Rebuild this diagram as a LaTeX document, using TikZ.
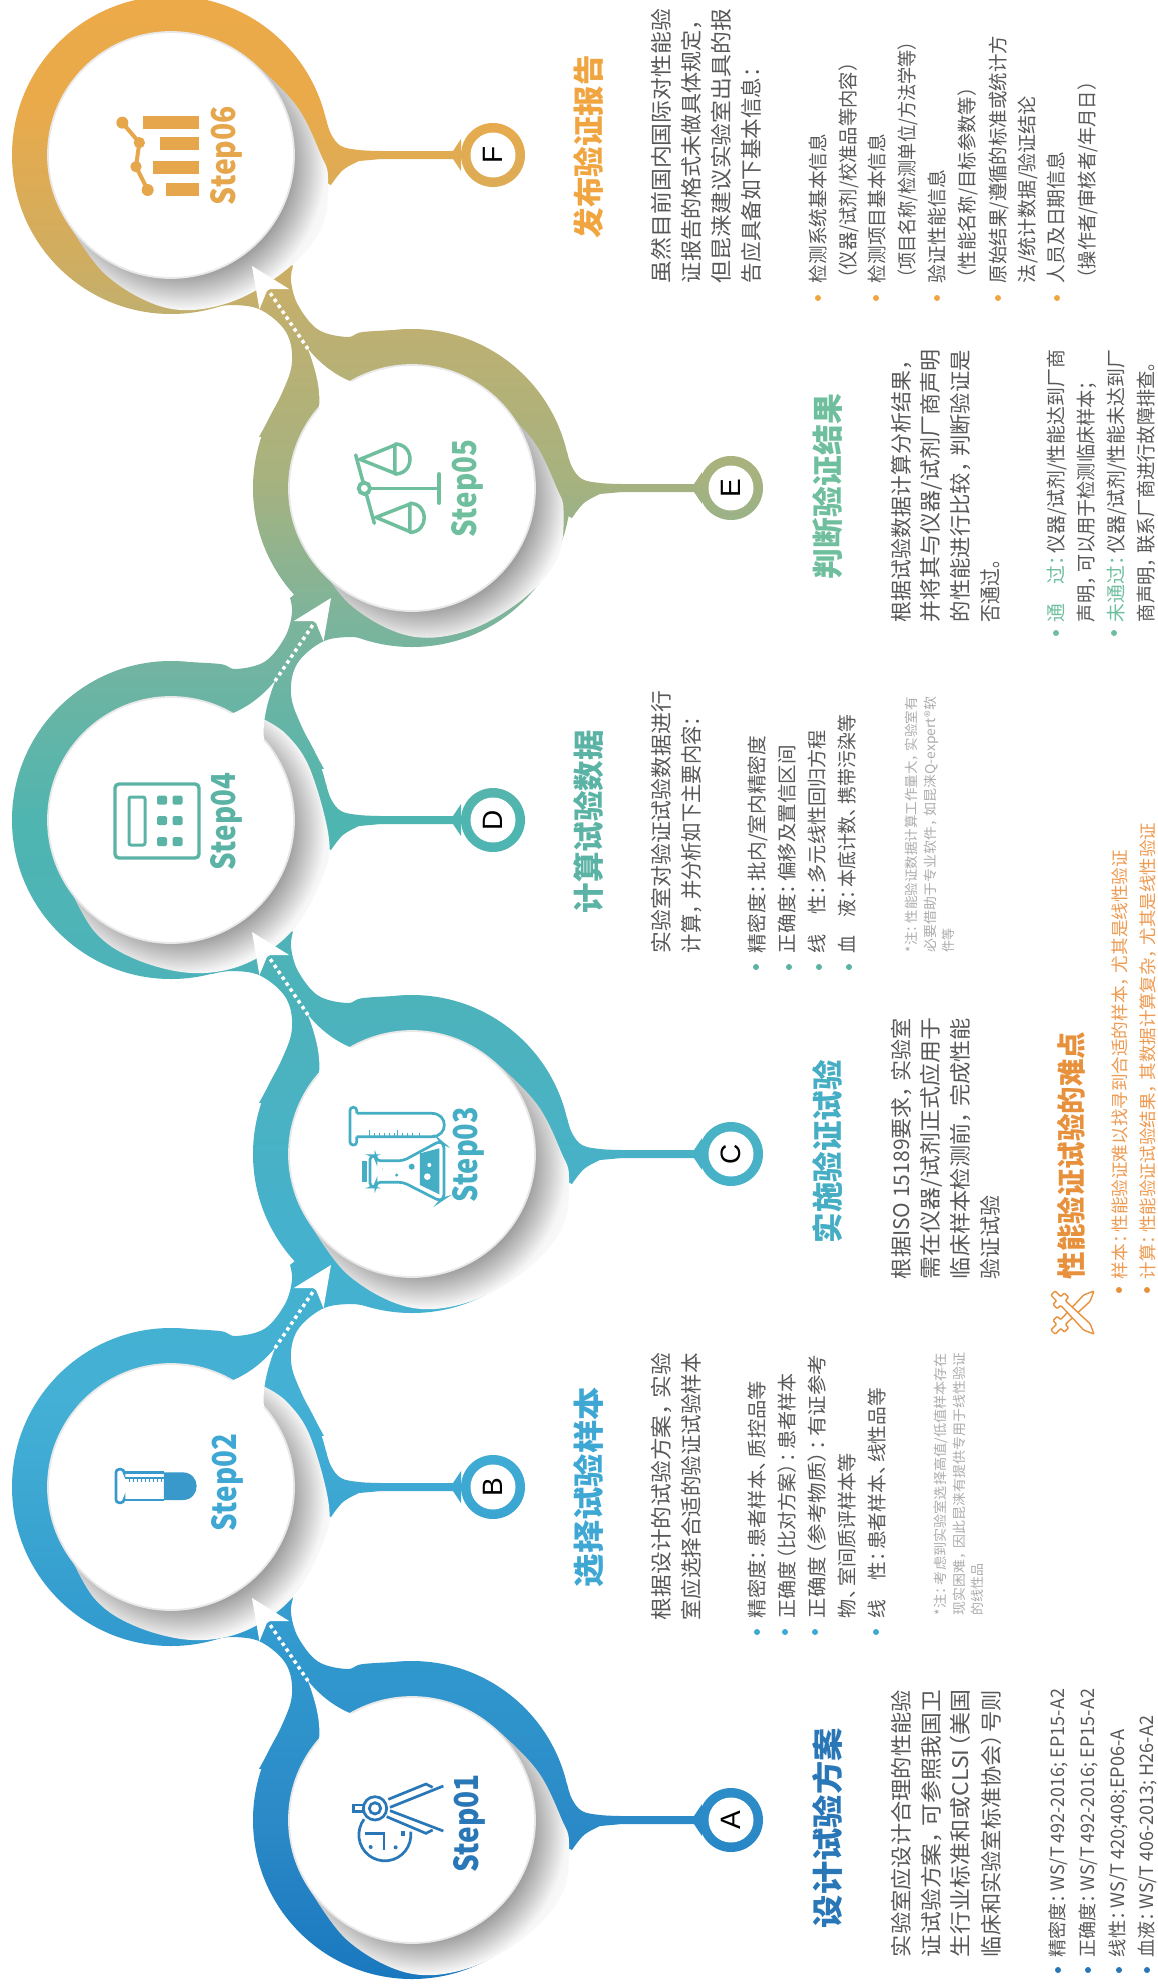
\documentclass[tikz,border=0pt]{standalone}
\usepackage{graphicx}
\usepackage{fontspec}
\setmainfont{Noto Sans CJK SC}
\newfontfamily\markfont{Liberation Sans}
\usetikzlibrary{arrows.meta,calc}
\definecolor{g0}{HTML}{1A78BF}\definecolor{g1}{HTML}{2B8AC7}\definecolor{g2}{HTML}{3199CE}
\definecolor{g3}{HTML}{44B0D5}\definecolor{g4}{HTML}{44B1CE}\definecolor{g5}{HTML}{4CB2BE}
\definecolor{g6}{HTML}{4FB5B0}\definecolor{g7}{HTML}{7CB49C}\definecolor{g8}{HTML}{A6B27F}
\definecolor{g9}{HTML}{BDB072}\definecolor{g10}{HTML}{D1AD5F}\definecolor{g11}{HTML}{EAAA4A}
\definecolor{g12}{HTML}{ECAA48}
\definecolor{bodyc}{HTML}{585858}\definecolor{notec}{HTML}{ACACAC}
\definecolor{ca}{HTML}{2A77B8}\definecolor{cb}{HTML}{3FA7D3}\definecolor{cc}{HTML}{45AEC4}
\definecolor{cd}{HTML}{5AB3A4}\definecolor{ce}{HTML}{6FBF9E}\definecolor{cf}{HTML}{E6A64C}
\definecolor{cg}{HTML}{E8913C}\definecolor{ch}{HTML}{EE9A50}\definecolor{ci}{HTML}{F0A540}
\definecolor{ls0}{HTML}{9A9A9A}\definecolor{ls1}{HTML}{C4C4C4}\definecolor{ls2}{HTML}{F6F6F6}
\pgfdeclareverticalshading{flow}{100bp}{color(0bp)=(g0);color(25.3bp)=(g0);color(29.2bp)=(g1);color(33.5bp)=(g2);color(39.8bp)=(g3);color(43.5bp)=(g4);color(48.6bp)=(g5);color(54.4bp)=(g6);color(59.4bp)=(g7);color(62.9bp)=(g8);color(66.7bp)=(g9);color(68.7bp)=(g10);color(72.5bp)=(g11);color(75bp)=(g12);color(100bp)=(g12)}
\pgfdeclareradialshading{lensg}{\pgfpointorigin}{color(0bp)=(ls0);color(15.7bp)=(ls0);color(18.2bp)=(ls1);color(21bp)=(ls2);color(25bp)=(white);color(50bp)=(white)}
\newcounter{tl}
\newcommand{\tline}[6]{\stepcounter{tl}\node[textline,text=#5,font=\fontsize{#4}{#4}\selectfont] (t\thetl) at (#1,#2) {\resizebox{#3pt}{\height}{#6}};}
\newcommand{\shadeall}{\shade[shading=flow] (0,0) rectangle (1157,1987);}
\newcommand{\bul}[3]{\fill[#1] (#2,#3) circle[radius=3];}
\newcommand{\cma}{，\hspace{-.25em}}
\newcommand{\cln}{：\hspace{-.35em}}
\newcommand{\dun}{、\hspace{-.35em}}
\newcommand{\lpa}{\hspace{-.4em}（}
\newcommand{\rpa}{）\hspace{-.4em}}
\tikzset{
 textline/.style={rotate=90,anchor=base west,inner sep=0pt,outer sep=0pt},
 disc/.style={fill=white,draw=black!9,line width=1.8pt},
 endmark/.style={circle,fill=white,minimum size=45pt,inner sep=0pt,rotate=90,text=black,font=\markfont\fontsize{28}{28}\selectfont},
 flowdash/.style={draw=white,line width=3.5pt,dash pattern=on 3.5pt off 3.6pt,-{Stealth[length=40pt,width=36pt,inset=12pt,line width=0pt,fill=white]}},
 ic/.style={line width=2.7pt},
}
\begin{document}
\begin{tikzpicture}[x=1pt,y=-1pt]
\useasboundingbox (0,0) rectangle (1157,1987);
\fill[white] (0,0) rectangle (1157,1987);
% rings, stems, end circles
\foreach \cx/\cy/\mx in {412/1820/731,171/1487/493,412/1154/731,171/820/493,412/488/731,171/155/493}{
  \begin{scope}\clip (\cx,\cy) circle[radius=159];\shadeall\end{scope}
  \begin{scope}
    \clip[shift={(\cx,\cy)}] plot[smooth,tension=.6] coordinates{(155,-36)(160,-21)(170,-9)(188,-5)(210,-4)} -- (282,-4) -- (290,-16) -- (290,16) -- (282,4) -- (210,4) -- plot[smooth,tension=.6] coordinates{(188,6)(172,15)(160,30)} -- (100,0) -- cycle;
    \shadeall
  \end{scope}
  \begin{scope}\clip (\mx,\cy) circle[radius=32];\shadeall\end{scope}
}
% necks
\foreach \cx/\cy/\s in {412/1820/1,171/1487/-1,412/1154/1,171/820/-1,412/488/1}{
  \begin{scope}
    \clip[shift={(\cx,\cy)},xscale=\s] plot[smooth,tension=.6] coordinates{(-153,-51)(-130,-95)(-120,-126)(-126,-156)(-151,-178)(-179,-183)(-200,-180)} -- (-181,-273) -- plot[smooth,tension=.6] coordinates{(-119,-222)(-121,-207)(-114,-183)(-94,-158.5)(-65,-151)(-49,-156)(-4,-158.5)} -- (-50,-60) -- cycle;
    \shadeall
  \end{scope}
}
% page-curl shadows
\foreach \cx/\cy/\k in {412/1820/1,412/1154/1,412/488/.965,171/155/1}{
  \begin{scope}
    \clip[shift={(\cx,\cy)},xscale=\k,yscale=\k] plot[smooth,tension=.6] coordinates{(33,-119)(60,-108)(90,-86)(127,-47)(150,0)(157,23)(151,72)(115,115)(57,148)(-4,153)(-65,120)(-106,63)} -- (0,0) -- cycle;
    \shade[shading=lensg] (\cx+11,\cy+11) circle[radius=170];
  \end{scope}
}
\foreach \cx/\cy in {171/1487,171/820}{
  \begin{scope}
    \clip[shift={(\cx,\cy)}] plot[smooth,tension=.6] coordinates{(90,-102)(115,-86)(139,-51)(158,19)(151,58)(121,111)(74,144)(21,153)(-36,139)(-77,111)(-106,58)} -- (0,0) -- cycle;
    \shade[shading=lensg] (\cx+11,\cy+11) circle[radius=170];
  \end{scope}
}
% white discs
\foreach \cx/\cy in {412/1820,171/1487,412/1154,171/820,412/488,171/155}{
  \filldraw[disc] (\cx,\cy) circle[radius=123];
}
% wedges and arrows
\foreach \i/\cx/\cy/\s in {1/412/1820/1,2/171/1487/-1,3/412/1154/1,4/171/820/-1,5/412/488/1}{
  \fill[white,shift={(\cx,\cy)},xscale=\s] (-104,-139) .. controls (-97,-120) and (-91,-100) .. (-93,-80) -- (-40,-60) -- (-60,-106) .. controls (-75,-112) and (-90,-122) .. (-104,-139) -- cycle;
  \coordinate (tail\i) at ($(\cx,\cy)+(\s*-104,-139)$);
  \coordinate (head\i) at ($(\cx,\cy)+(\s*-160,-222)$);
}
\foreach \i in {1,...,5}{\draw[flowdash] (tail\i) -- (head\i);}
% end marks
\node[endmark] (mA) at (731,1820) {A};
\node[endmark] (mB) at (493,1487) {B};
\node[endmark] (mC) at (731,1154) {C};
\node[endmark] (mD) at (493,820) {D};
\node[endmark] (mE) at (731,488) {E};
\node[endmark] (mF) at (493,155) {F};
% step labels
\tline{478}{1872}{98}{33}{ca}{\bfseries Step01}
\tline{236}{1531}{97}{33}{cb}{\bfseries Step02}
\tline{477}{1202}{95}{33}{cc}{\bfseries Step03}
\tline{235}{870}{97}{33}{cd}{\bfseries Step04}
\tline{476}{537}{97}{33}{ce}{\bfseries Step05}
\tline{235}{205}{99}{33}{cf}{\bfseries Step06}
% icon 01
\begin{scope}[shift={(340,1770)},x=.3333pt,y=-.3333pt,ic,draw=ca,fill=ca]
  \draw (212,185) arc[start angle=-7,end angle=217,radius=78];
  \draw (75,190)--(132,190)--(132,240);
  \fill (92,231) circle[radius=6]; \fill (167,232) circle[radius=6]; \fill (182,184) rectangle (195,197);
  \draw[fill=white] (105,115) circle[radius=35]; \draw (105,115) circle[radius=17];
  \draw (70,105)--(40,105)--(40,125)--(70,125);
  \draw (145,88)--(258,42)--(278,52); \draw (150,112)--(310,48);
  \draw (150,122)--(310,183); \draw (140,140)--(258,190)--(278,180);
\end{scope}
% icon 02
\begin{scope}[shift={(100,1440)},x=.3333pt,y=-.3333pt,ic,draw=cb!70!ca,fill=cb!70!ca]
  \fill (192,97) -- (248,97) .. controls (275,97) and (290,118) .. (290,138) .. controls (290,160) and (275,180) .. (248,180) -- (192,180) -- cycle;
  \draw (192,97)--(72,97); \draw (192,180)--(72,180);
  \draw[rounded corners=3pt] (72,97)--(72,88)--(48,88)--(48,188)--(72,188)--(72,180);
  \fill (75,110) rectangle (192,116);
  \foreach \x in {88,100,...,188}{\draw[line width=.7pt] (\x,116)--(\x,126);}
\end{scope}
% icon 03
\begin{scope}[shift={(340,1095)},x=.3333pt,y=-.3333pt,ic,draw=cc,fill=cc]
  \draw[rounded corners=3pt] (50,55)--(50,37)--(30,37)--(30,150)--(50,150)--(50,125);
  \draw (50,55)--(275,55) .. controls (300,55) and (313,72) .. (313,90) .. controls (313,108) and (300,125) .. (275,125) -- (50,125);
  \foreach \x in {103,118,133,148,163,188,203,218,238}{\draw[line width=1.2pt] (\x,125)--(\x,115);}
  \draw[line width=1.5pt] (88,125)--(88,105); \draw[line width=1.5pt] (173,125)--(173,105);
  \draw[rounded corners=4pt] (108,197)--(108,182)--(90,182)--(90,276)--(108,276)--(108,262)--(190,262)--(300,318)--(312,310)--(312,148)--(300,138)--(190,197)--cycle;
  \fill (240,175)--(298,160)--(298,298)--(240,270)--cycle;
  \fill[white] (268,210) circle[radius=6]; \fill[white] (262,245) circle[radius=10];
  \fill (215,215) circle[radius=9]; \fill (170,240) circle[radius=5]; \fill (128,222) circle[radius=1.5];
  \fill (67,197) rectangle (81,262);
\end{scope}
% icon 04
\begin{scope}[draw=cd,fill=cd]
  \draw[rounded corners=4pt,line width=3.4pt] (115,784) rectangle (199,858);
  \draw[rounded corners=2pt,line width=3pt] (129,797) rectangle (145,845);
  \foreach \x in {162,177.5}{\foreach \y in {800,820.5,841.5}{\fill[rounded corners=1.5pt] (\x-5,\y-4.5) rectangle (\x+5,\y+4.5);}}
\end{scope}
% icon 05
\begin{scope}[shift={(340,430)},x=.3333pt,y=-.3333pt,line width=3.5pt,line cap=round,draw=ce]
  \draw (47,75)--(103,280);
  \draw (93,175)--(297,175); \draw[line width=4.6pt] (297,133)--(297,218);
  \draw[fill=white,line width=3.8pt] (73,175) circle[radius=17];
  \draw (60,88)--(165,45)--(165,130)--cycle;
  \draw (165,42) .. controls (195,42) and (210,65) .. (210,87) .. controls (210,110) and (195,132) .. (165,132);
  \draw (108,262)--(210,222)--(210,305)--cycle;
  \draw (210,220) .. controls (238,220) and (253,242) .. (253,263) .. controls (253,285) and (238,307) .. (210,307);
\end{scope}
% icon 06
\begin{scope}[shift={(105,100)},x=.3333pt,y=-.3333pt,line width=4pt,draw=cf,fill=cf]
  \fill (113,48) rectangle (283,87); \fill (166,111) rectangle (283,150);
  \fill (144,182) rectangle (283,221); \fill (182,249) rectangle (283,288);
  \draw (52,68)--(103,128)--(93,200)--(128,270);
  \fill (52,68) circle[radius=18]; \fill (103,128) circle[radius=17];
  \fill (93,200) circle[radius=17]; \fill (128,270) circle[radius=18];
\end{scope}
% tools icon
\foreach \px/\py/\r in {1053/1332/45,1053/1293/-45}{
  \draw[cg,line width=1.4pt,fill=white,rounded corners=1pt,shift={(\px,\py)},rotate=\r,y=1pt]
   (0,-3)--(8,-3)--(8,-8)--(14,-8)--(14,-3.5)--(20,-3.5)--(48,-4.5)--(58,0)--(48,4.5)--(20,3.5)--(14,3.5)--(14,8)--(8,8)--(8,3)--(0,3)--cycle;
}
% titles
\tline{839}{1928}{200}{31}{ca}{\bfseries 设计试验方案}
\tline{600}{1587}{200}{31}{cb}{\bfseries 选择试验样本}
\tline{839}{1243}{183}{31}{cc}{\bfseries 实施验证试验}
\tline{600}{913}{183}{31}{cd}{\bfseries 计算试验数据}
\tline{839}{579}{185}{31}{ce}{\bfseries 判断验证结果}
\tline{600}{238}{183}{31}{ci}{\bfseries 发布验证报告}
\tline{1082}{1279}{247}{29}{cg}{\bfseries 性能验证试验的难点}
% A
\tline{909}{1957}{267}{21.5}{bodyc}{实验室应设计合理的性能验}
\tline{939}{1957}{267}{21.5}{bodyc}{证试验方案\cma 可参照我国卫}
\tline{968}{1957}{267}{21.5}{bodyc}{生行业标准和或CLSI\lpa 美国}
\tline{999}{1957}{267}{21.5}{bodyc}{临床和实验室标准协会\rpa 号则}
\tline{1064}{1957}{268}{18.5}{bodyc}{精密度\cln WS/T 492-2016; EP15-A2}
\tline{1094}{1957}{268}{18.5}{bodyc}{正确度\cln WS/T 492-2016; EP15-A2}
\tline{1124}{1957}{228}{18.5}{bodyc}{线性\cln WS/T 420;408;EP06-A}
\tline{1153}{1957}{241}{18.5}{bodyc}{血液\cln WS/T 406-2013; H26-A2}
\bul{ca}{1058}{1970}\bul{ca}{1088}{1970}\bul{ca}{1119}{1970}\bul{ca}{1147}{1970}
% B
\tline{669}{1620}{267}{21.5}{bodyc}{根据设计的试验方案\cma 实验}
\tline{699}{1620}{267}{21.5}{bodyc}{室应选择合适的验证试验样本}
\tline{764}{1618}{237}{19.5}{bodyc}{精密度\cln 患者样本\dun 质控品等}
\tline{794}{1618}{244}{19.5}{bodyc}{正确度\lpa 比对方案\rpa \cln 患者样本}
\tline{824}{1618}{263}{19.5}{bodyc}{正确度\lpa 参考物质\rpa \cln 有证参考}
\tline{854}{1618}{165}{19.5}{bodyc}{物\dun 室间质评样本等}
\tline{884}{1618}{230}{19.5}{bodyc}{线　性\cln 患者样本\dun 线性品等}
\bul{cb}{757}{1632}\bul{cb}{785}{1632}\bul{cb}{815}{1632}\bul{cb}{876}{1632}
\tline{945}{1615}{262}{13.5}{notec}{*注\cln 考虑到实验室选择高值/低值样本存在}
\tline{964}{1615}{262}{13.5}{notec}{现实困难\cma 因此昆涞有提供专用于线性验证}
\tline{982}{1615}{52}{13.5}{notec}{的线性品}
% C
\tline{909}{1279}{261}{21.5}{bodyc}{根据ISO 15189要求\cma 实验室}
\tline{938}{1279}{261}{21.5}{bodyc}{需在仪器/试剂正式应用于}
\tline{968}{1279}{261}{21.5}{bodyc}{临床样本检测前\cma 完成性能}
\tline{998}{1279}{84}{21.5}{bodyc}{验证试验}
% difficulties
\tline{1126}{1279}{429}{17.5}{ch}{样本\cln 性能验证难以找寻到合适的样本\cma 尤其是线性验证}
\tline{1154}{1279}{456}{17.5}{ch}{计算\cln 性能验证试验结果\cma 其数据计算复杂\cma 尤其是线性验证}
\bul{cg}{1119}{1290}\bul{cg}{1147}{1290}
% D
\tline{669}{953}{262}{21.5}{bodyc}{实验室对验证试验数据进行}
\tline{699}{953}{246}{21.5}{bodyc}{计算\cma 并分析如下主要内容：}
\tline{764}{953}{217}{19.5}{bodyc}{精密度\cln 批内/室内精密度}
\tline{794}{953}{208}{19.5}{bodyc}{正确度\cln 偏移及置信区间}
\tline{824}{953}{223}{19.5}{bodyc}{线　性\cln 多元线性回归方程}
\tline{854}{953}{238}{19.5}{bodyc}{血　液\cln 本底计数\dun 携带污染等}
\bul{cd}{756}{967}\bul{cd}{789}{967}\bul{cd}{819}{967}\bul{cd}{849}{967}
\tline{916}{952}{255}{13.5}{notec}{*注\cln 性能验证数据计算工作量大\cma 实验室有}
\tline{935}{952}{255}{13.5}{notec}{必要借助于专业软件\cma 如昆涞Q-expert®软}
\tline{953}{952}{24}{13.5}{notec}{件等}
% E
\tline{909}{622}{272}{21.5}{bodyc}{根据试验数据计算分析结果，}
\tline{938}{622}{272}{21.5}{bodyc}{并将其与仪器/试剂厂商声明}
\tline{968}{622}{272}{21.5}{bodyc}{的性能进行比较\cma 判断验证是}
\tline{998}{622}{71}{21.5}{bodyc}{否通过。}
\tline{1063}{622}{272}{19.5}{bodyc}{{\color{ce}通　过\cln}仪器/试剂/性能达到厂商}
\tline{1093}{622}{250}{19.5}{bodyc}{声明\cma 可以用于检测临床样本；}
\tline{1123}{622}{272}{19.5}{bodyc}{{\color{ce}未通过\cln}仪器/试剂/性能未达到厂}
\tline{1153}{622}{269}{19.5}{bodyc}{商声明\cma 联系厂商进行故障排查。}
\bul{ce}{1056}{633}\bul{ce}{1114}{633}
% F
\tline{669}{283}{274}{21.5}{bodyc}{虽然目前国内国际对性能验}
\tline{699}{283}{274}{21.5}{bodyc}{证报告的格式未做具体规定，}
\tline{729}{283}{274}{21.5}{bodyc}{但昆涞建议实验室出具的报}
\tline{759}{283}{226}{21.5}{bodyc}{告应具备如下基本信息：}
\tline{825}{283}{149}{19.5}{bodyc}{检测系统基本信息}
\tline{855}{280}{219}{19.5}{bodyc}{\lpa 仪器/试剂/校准品等内容\rpa}
\tline{884}{283}{149}{19.5}{bodyc}{检测项目基本信息}
\tline{914}{280}{240}{19.5}{bodyc}{\lpa 项目名称/检测单位/方法学等\rpa}
\tline{944}{283}{113}{19.5}{bodyc}{验证性能信息}
\tline{974}{280}{194}{19.5}{bodyc}{\lpa 性能名称/目标参数等\rpa}
\tline{1005}{283}{247}{19.5}{bodyc}{原始结果/遵循的标准或统计方}
\tline{1034}{283}{187}{19.5}{bodyc}{法/统计数据/验证结论}
\tline{1063}{283}{131}{19.5}{bodyc}{人员及日期信息}
\tline{1094}{280}{200}{19.5}{bodyc}{\lpa 操作者/审核者/年月日\rpa}
\bul{ci}{818}{298}\bul{ci}{876}{298}\bul{ci}{937}{298}\bul{ci}{998}{298}\bul{ci}{1057}{298}
\end{tikzpicture}
\end{document}
